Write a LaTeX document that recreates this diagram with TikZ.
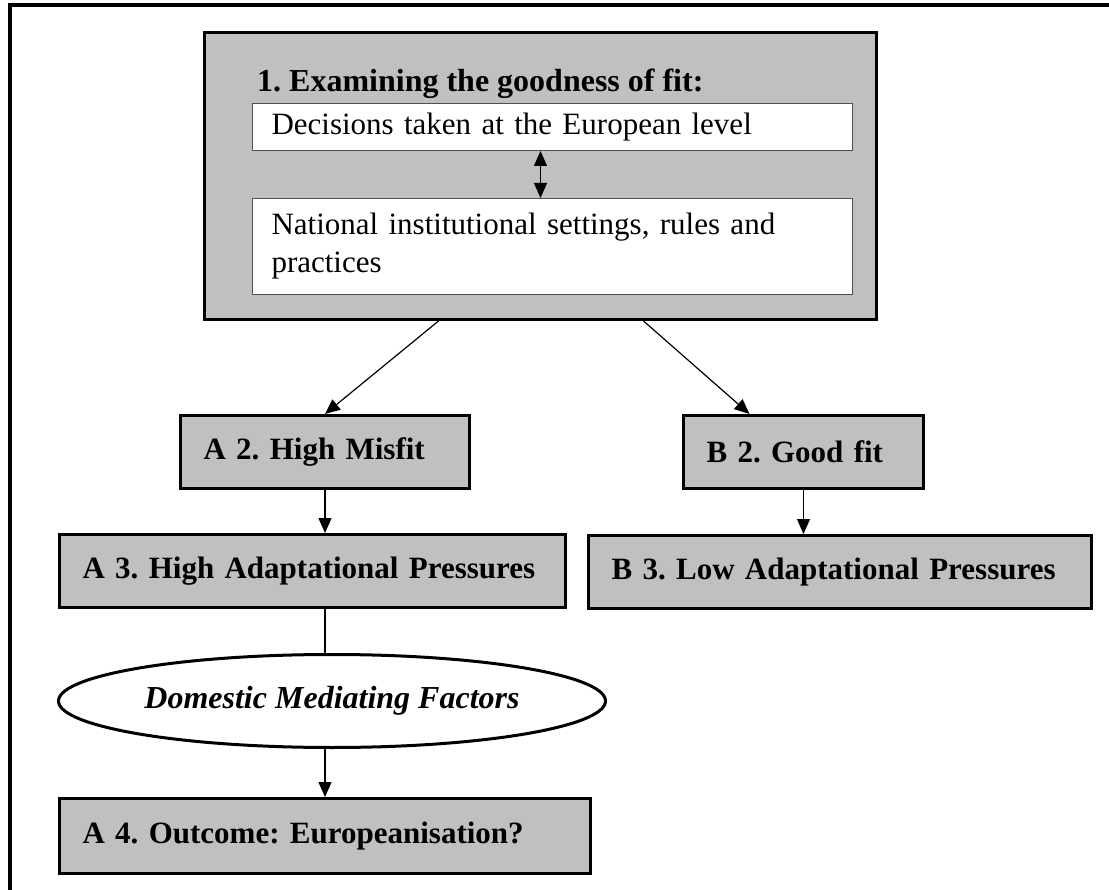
\documentclass[tikz,border=0pt]{standalone}
\usepackage{fontspec}
\setmainfont{Liberation Serif}
\usetikzlibrary{shapes.geometric, arrows.meta, calc}
\newcommand{\boxLine}{3pt}
\newcommand{\thinLine}{1.2pt}
\newcommand{\arrowTip}{{Triangle[length=15pt, width=13pt]}}
\newcommand{\textInset}{23pt}
\newcommand{\boxHeight}{73pt}
\definecolor{lineColor}{RGB}{0, 0, 0}
\definecolor{boxGray}{RGB}{192,192,192}
\definecolor{innerEdge}{RGB}{80,80,80}
\tikzstyle{stage}=[draw=lineColor, fill=boxGray, line width=\boxLine, anchor=north west, inner xsep=\textInset, inner ysep=0, align=left, minimum height=\boxHeight, font=\fontsize{31}{37}\selectfont\bfseries]
\tikzstyle{levelBox}=[draw=innerEdge, fill=white, line width=1pt, anchor=north west, inner xsep=19pt, inner ysep=0, align=left, font=\fontsize{31}{38}\selectfont]
\tikzstyle{line}=[draw=lineColor, line width=\thinLine]
\tikzstyle{arrow}=[line, -\arrowTip]

\begin{document}
\frenchspacing
\begin{tikzpicture}[x=1pt, y=-1pt]

% Frame
\useasboundingbox (0,0) rectangle (1109,890);
\draw[line width=3.5pt] (1109,5) -- (10,5) -- (10,890);

% Goodness of fit
\node[stage, minimum width=672pt, minimum height=287pt] (fitBox) at (203,31) {};
\node[anchor=base west, inner sep=0, font=\fontsize{32}{32}\selectfont\bfseries] (fitTitle) at (257,92) {1. Examining the goodness of fit:};
\node[levelBox, text width=562pt, minimum height=47pt] (euLevel) at (252,103) {Decisions taken at the European level};
\node[levelBox, text width=562pt, minimum height=96pt] (national) at (252,198) {National institutional settings, rules and\\practices};
\draw[line, \arrowTip-\arrowTip] ([xshift=-12pt]euLevel.south) -- ([xshift=-12pt]national.north);

% Branches
\node[stage, text width=243pt] (highMisfit) at (179,414) {A 2. High Misfit};
\node[stage, text width=194pt] (goodFit) at (682,414) {B 2. Good fit};
\node[stage, text width=460pt] (highPress) at (58,533) {A 3. High Adaptational Pressures};
\node[stage, text width=457pt] (lowPress) at (587,534) {B 3. Low Adaptational Pressures};
\draw[arrow] ([xshift=-102pt]fitBox.south) -- (highMisfit.north);
\draw[arrow] ([xshift=103pt]fitBox.south) -- ([xshift=-54pt]goodFit.north);
\draw[arrow] (highMisfit.south) -- (highMisfit.south |- highPress.north);
\draw[arrow] (goodFit.south) -- (goodFit.south |- lowPress.north);

% Mediating factors and outcome
\node[ellipse, draw=lineColor, fill=white, line width=\boxLine, inner sep=0, minimum width=547pt, minimum height=93pt, font=\fontsize{32}{32}\selectfont\bfseries\itshape] (mediating) at (332,701) {Domestic Mediating Factors};
\node[stage, text width=485pt, minimum height=75pt] (outcome) at (58,797) {A 4. Outcome: Europeanisation?};
\draw[line] (outcome.north |- highPress.south) -- (outcome.north |- mediating.north);
\draw[arrow] (outcome.north |- mediating.south) -- (outcome.north);

\end{tikzpicture}
\end{document}
